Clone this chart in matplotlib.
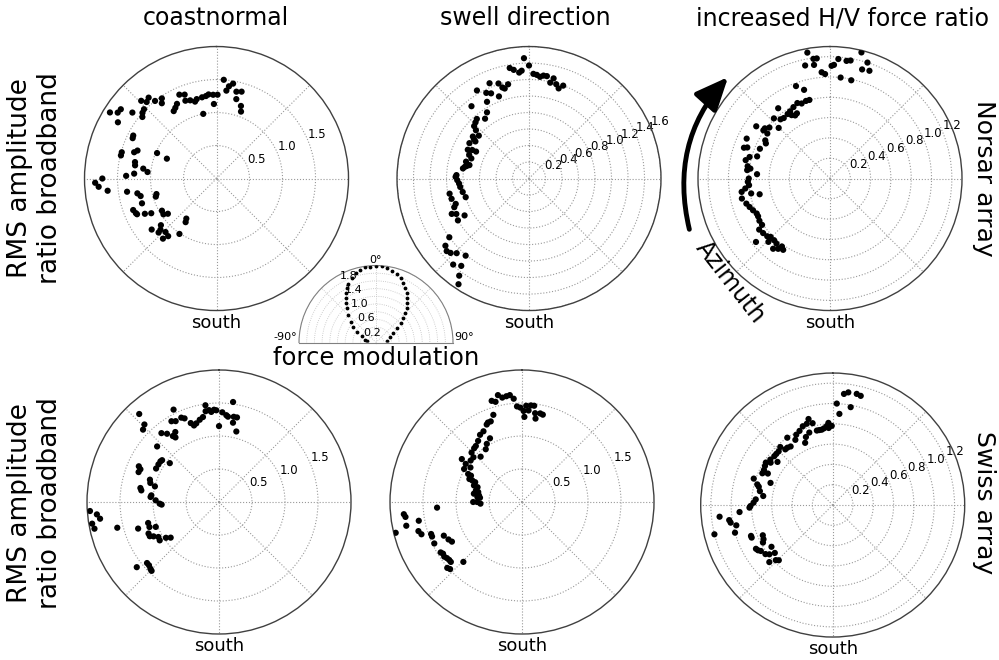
import numpy as np
import matplotlib.pyplot as plt
from matplotlib.patches import FancyArrowPatch

# azimuth (deg, clockwise from north) and RMS amplitude ratio
norsar_coast_az = [4.2, 7.7, 9.9, 6.4, 12.9, 16.1, 14.0, 18.6, 20.1, 0.7, 357.7, 354.6, 352.7, 349.9,
                   346.0, 344.4, 341.4, 338.2, 339.2, 336.1, 332.1, 329.8, 327.6, 348.4, 358.0, 325.7,
                   324.0, 321.6, 320.0, 315.9, 317.6, 313.7, 311.6, 309.7, 308.1, 305.9, 303.7, 301.8,
                   299.7, 297.3, 295.7, 289.5, 287.7, 285.5, 283.6, 293.2, 291.8, 281.4, 279.2, 277.7,
                   275.4, 273.4, 271.7, 268.0, 266.0, 270.0, 263.6, 261.6, 259.4, 257.0, 251.6, 255.5,
                   253.4, 249.3, 246.8, 245.8, 243.8, 242.0, 239.5, 236.0, 234.1, 217.0, 215.3, 230.0,
                   227.6, 231.8, 227.0, 223.6, 220.0, 221.7, 213.8]
norsar_coast_amp = [1.50, 1.41, 1.46, 1.34, 1.35, 1.37, 1.24, 1.16, 1.08, 1.27, 1.27, 1.28, 1.26, 1.25,
                    1.24, 1.21, 1.25, 1.27, 1.36, 1.39, 1.28, 1.24, 1.21, 1.00, 1.13, 1.47, 1.41, 1.50,
                    1.60, 1.64, 1.57, 1.52, 1.50, 1.46, 1.62, 1.79, 1.80, 1.90, 1.72, 1.42, 1.41, 1.27,
                    1.31, 1.49, 1.49, 0.98, 0.81, 1.26, 1.25, 1.12, 1.05, 1.25, 1.37, 1.84, 1.79, 1.73,
                    1.66, 1.37, 1.22, 1.18, 1.19, 0.94, 0.96, 1.35, 1.33, 1.32, 1.21, 1.12, 0.96, 0.97,
                    0.91, 0.76, 0.81, 1.10, 1.15, 1.25, 1.20, 1.12, 1.14, 1.22, 1.01]

norsar_swell_az = [357.6, 0.0, 350.1, 352.0, 354.7, 356.1, 2.4, 4.3, 6.2, 8.0, 9.9, 13.8, 12.5, 16.1,
                   18.2, 20.2, 337.5, 342.2, 343.7, 344.9, 347.5, 329.4, 333.5, 336.0, 339.9, 331.3,
                   321.5, 327.6, 323.7, 318.8, 316.4, 313.7, 312.3, 310.5, 306.8, 305.5, 300.7, 304.7,
                   295.2, 296.7, 291.6, 297.0, 289.2, 285.0, 280.4, 278.7, 281.4, 282.7, 272.7, 271.3,
                   268.7, 265.9, 263.0, 258.5, 253.6, 259.2, 255.3, 250.9, 249.0, 244.0, 240.2, 245.4,
                   239.5, 233.6, 231.2, 228.6, 226.5, 224.1, 219.4, 221.4, 217.8, 215.7, 213.7]
norsar_swell_amp = [1.46, 1.37, 1.36, 1.33, 1.29, 1.31, 1.27, 1.26, 1.24, 1.26, 1.26, 1.25, 1.19, 1.19,
                    1.15, 1.20, 1.25, 1.21, 1.15, 1.13, 1.17, 1.24, 1.16, 1.13, 1.06, 1.06, 1.12, 0.95,
                    0.90, 0.96, 0.94, 0.92, 0.87, 0.80, 0.85, 0.82, 0.84, 0.79, 0.82, 0.77, 0.78, 0.72,
                    0.74, 0.79, 0.79, 0.81, 0.77, 0.74, 0.88, 0.89, 0.87, 0.85, 0.84, 0.82, 0.80, 0.98,
                    0.97, 0.94, 0.97, 0.98, 0.90, 1.03, 1.00, 1.20, 1.30, 1.33, 1.31, 1.26, 1.21, 1.39,
                    1.34, 1.45, 1.54]

norsar_hv_az = [349.8, 352.1, 353.7, 347.6, 352.0, 0.8, 2.0, 4.0, 8.0, 9.9, 14.0, 17.9, 20.1, 16.4,
                355.5, 357.3, 6.0, 12.2, 339.8, 343.7, 345.3, 342.8, 339.3, 336.6, 332.9, 333.1,
                323.6, 329.3, 326.7, 328.8, 331.1, 322.6, 320.1, 317.0, 314.6, 310.1, 307.6, 305.9,
                305.3, 305.7, 300.5, 298.7, 293.0, 295.6, 289.7, 290.6, 285.0, 286.9, 282.3, 278.5,
                275.8, 277.1, 273.4, 270.0, 267.7, 265.3, 263.3, 261.4, 259.3, 257.4, 257.2, 253.3,
                250.5, 247.6, 244.5, 242.3, 239.1, 235.7, 234.2, 230.8, 227.4, 225.5, 222.2, 224.2,
                219.4, 215.3, 213.3, 216.4, 219.0, 229.4]
norsar_hv_amp = [1.26, 1.19, 1.19, 1.14, 1.13, 1.11, 1.12, 1.18, 1.17, 1.18, 1.28, 1.20, 1.13, 1.12,
                 1.05, 1.03, 1.00, 0.99, 0.97, 0.91, 0.80, 0.80, 0.79, 0.81, 0.79, 0.72, 0.86, 0.77,
                 0.76, 0.73, 0.71, 0.75, 0.76, 0.81, 0.71, 0.78, 0.81, 0.81, 0.89, 0.76, 0.74, 0.72,
                 0.75, 0.91, 0.90, 0.87, 0.82, 0.75, 0.85, 0.82, 0.82, 0.79, 0.72, 0.80, 0.81, 0.80,
                 0.84, 0.88, 0.79, 0.71, 0.89, 0.86, 0.84, 0.82, 0.80, 0.80, 0.81, 0.81, 0.86, 0.85,
                 0.84, 0.82, 0.82, 0.87, 0.83, 0.82, 0.84, 0.86, 0.89, 0.96]

swiss_coast_az = [8.0, 352.0, 356.9, 355.1, 353.8, 358.3, 2.1, 4.8, 6.0, 9.8, 12.0, 10.0, 13.8, 0.0,
                  351.6, 349.3, 346.8, 343.9, 341.9, 340.3, 337.6, 335.9, 333.8, 331.8, 329.5, 328.0,
                  326.0, 325.0, 322.7, 320.1, 317.8, 316.1, 313.6, 311.9, 304.7, 301.8, 308.3, 306.3,
                  298.0, 294.0, 292.6, 290.4, 287.9, 285.5, 283.7, 280.1, 278.5, 275.6, 271.5, 268.4,
                  267.4, 274.2, 266.0, 264.2, 262.0, 260.3, 257.9, 255.8, 251.8, 253.5, 250.2, 248.5,
                  245.9, 243.7, 242.3, 240.0, 237.1, 236.0, 233.6, 231.6, 229.7, 227.9, 225.8, 224.4]
swiss_coast_amp = [1.53, 1.48, 1.40, 1.37, 1.40, 1.39, 1.36, 1.32, 1.30, 1.31, 1.31, 1.22, 1.10, 1.15,
                   1.39, 1.31, 1.28, 1.24, 1.22, 1.27, 1.37, 1.40, 1.56, 1.39, 1.42, 1.25, 1.18, 1.22,
                   1.30, 1.36, 1.80, 1.63, 1.59, 1.26, 1.08, 1.08, 0.95, 1.07, 1.08, 1.33, 1.29, 1.30,
                   1.10, 1.08, 1.00, 1.21, 1.19, 1.03, 0.96, 0.90, 0.87, 1.04, 1.96, 1.86, 1.82, 1.95,
                   1.93, 1.59, 1.29, 1.12, 1.12, 1.03, 1.17, 1.17, 1.12, 1.06, 1.07, 0.97, 0.91, 1.59,
                   1.43, 1.43, 1.45, 1.46]

swiss_swell_az = [347.3, 349.3, 351.6, 353.5, 355.4, 343.3, 345.2, 357.0, 359.0, 2.5, 5.3, 7.2, 1.0,
                  4.1, 8.4, 11.6, 13.4, 1.6, 9.2, 341.8, 338.8, 336.8, 335.5, 331.4, 328.0, 333.3,
                  324.3, 328.8, 320.5, 318.3, 325.5, 314.4, 317.6, 312.6, 305.5, 304.1, 308.9, 299.7,
                  303.8, 297.5, 297.3, 293.6, 293.4, 292.9, 289.0, 288.4, 284.0, 282.8, 279.8, 278.7,
                  276.3, 275.8, 270.0, 270.0, 267.7, 266.2, 264.1, 262.7, 258.4, 259.7, 256.3, 254.3,
                  252.2, 250.6, 249.0, 244.7, 246.7, 243.0, 240.5, 238.2, 236.8, 234.9, 233.2, 231.5,
                  229.9, 224.4, 228.6, 227.0]
swiss_swell_amp = [1.66, 1.61, 1.62, 1.63, 1.57, 1.60, 1.57, 1.45, 1.43, 1.46, 1.47, 1.47, 1.38, 1.39,
                   1.36, 1.37, 1.36, 1.29, 1.28, 1.39, 1.31, 1.31, 1.29, 1.22, 1.20, 1.08, 1.14, 1.03,
                   1.10, 1.09, 0.97, 1.07, 0.93, 1.00, 1.12, 1.03, 1.00, 1.01, 0.94, 0.92, 0.87, 0.87,
                   0.82, 0.77, 0.77, 0.71, 0.72, 0.68, 0.74, 0.66, 0.68, 0.64, 0.74, 0.68, 0.63, 1.29,
                   1.80, 1.78, 1.79, 1.59, 1.97, 1.63, 1.60, 1.46, 1.46, 1.47, 1.29, 1.25, 1.22, 1.45,
                   1.43, 1.44, 1.42, 1.41, 1.41, 1.27, 1.51, 1.49]

swiss_hv_az = [5.8, 7.9, 12.2, 14.4, 2.3, 10.4, 4.2, 344.3, 342.3, 346.2, 348.0, 349.9, 351.7, 353.5,
               355.7, 357.0, 359.3, 357.0, 339.2, 335.9, 342.1, 332.6, 338.5, 330.2, 336.1, 326.0,
               324.3, 321.7, 317.9, 319.6, 314.8, 312.2, 309.9, 306.1, 308.0, 304.3, 302.4, 300.0,
               297.0, 294.3, 295.9, 289.6, 288.5, 285.3, 283.9, 280.8, 277.4, 274.2, 271.7, 269.3,
               268.2, 265.7, 264.1, 261.7, 260.2, 258.1, 254.2, 256.1, 249.3, 248.1, 246.6, 243.7,
               241.7, 240.3, 238.8, 237.4, 233.9, 232.1, 230.4, 235.7, 228.0, 225.9, 224.3]
swiss_hv_amp = [1.10, 1.12, 1.12, 1.11, 1.00, 0.98, 0.90, 0.88, 0.84, 0.83, 0.75, 0.75, 0.75, 0.76,
                0.78, 0.81, 0.78, 0.76, 0.83, 0.80, 0.75, 0.78, 0.72, 0.74, 0.67, 0.80, 0.71, 0.72,
                0.77, 0.72, 0.75, 0.75, 0.75, 0.76, 0.69, 0.74, 0.78, 0.77, 0.76, 0.76, 0.71, 0.65,
                0.82, 0.77, 0.75, 0.73, 0.69, 0.76, 0.78, 0.81, 0.82, 0.92, 1.12, 1.03, 1.02, 0.97,
                1.00, 1.20, 0.86, 0.86, 0.75, 0.76, 0.78, 0.87, 0.86, 0.84, 0.82, 0.79, 0.74, 0.73,
                0.84, 0.78, 0.76]

# force modulation pattern (angle from vertical, deg)
force_theta = [-83.4, -76.4, -65.1, -59.5, -54.8, -50.3, -45.0, -40.5, -37.3, -34.4, -31.3, -28.4,
               -25.2, -20.7, -16.1, -12.4, -8.3, -4.5, 0.0, 4.3, 8.2, 12.3, 16.8, 21.0, 24.7, 28.4,
               31.9, 35.3, 38.5, 41.8, 45.0, 48.3, 51.9, 56.1, 61.7, 69.1, 79.4]
force_r = [0.23, 0.29, 0.41, 0.56, 0.72, 0.85, 1.02, 1.17, 1.28, 1.40, 1.50, 1.60, 1.68, 1.79, 1.87,
           1.93, 1.98, 1.98, 1.99, 1.98, 1.95, 1.91, 1.86, 1.79, 1.70, 1.60, 1.51, 1.41, 1.31, 1.20,
           1.08, 0.95, 0.81, 0.67, 0.51, 0.39, 0.28]
force_rlabels = [0.2, 0.6, 1.0, 1.4, 1.8]

col_titles = ['coastnormal', 'swell direction', 'increased H/V force ratio']
row_names = ['Norsar array', 'Swiss array']

fig = plt.figure(figsize=(9.99, 6.6), dpi=100)


def polar_panel(rect, az, amp, rmax, rticks):
    ax = fig.add_axes(rect, projection='polar')
    ax.set_theta_zero_location('N')
    ax.set_theta_direction(-1)
    ax.scatter(np.radians(az), amp, s=20, c='k', edgecolors='none', zorder=3)
    ax.set_ylim(0, rmax)
    ax.set_rgrids(rticks, labels=['%.1f' % t for t in rticks], angle=67.5, fontsize=8.5)
    ax.set_thetagrids(np.arange(0, 360, 45), labels=[''] * 8)
    ax.grid(True, color='0.6', linestyle=':', linewidth=0.8)
    ax.spines['polar'].set_color('0.25')
    ax.spines['polar'].set_linewidth(1.0)
    ax.text(0.5, -0.012, 'south', transform=ax.transAxes, ha='center', va='top', fontsize=13)
    return ax


w, h = 264 / 999, 264 / 660
polar_panel([0.0846, 0.5295, w, h], norsar_coast_az, norsar_coast_amp, 2.0, [0.5, 1.0, 1.5])
polar_panel([0.3974, 0.5295, w, h], norsar_swell_az, norsar_swell_amp, 1.6,
            [0.2, 0.4, 0.6, 0.8, 1.0, 1.2, 1.4, 1.6])
polar_panel([0.6987, 0.5295, w, h], norsar_hv_az, norsar_hv_amp, 1.3, [0.2, 0.4, 0.6, 0.8, 1.0, 1.2])
polar_panel([0.0871, 0.0394, w, h], swiss_coast_az, swiss_coast_amp, 2.0, [0.5, 1.0, 1.5])
polar_panel([0.3904, 0.0394, w, h], swiss_swell_az, swiss_swell_amp, 2.0, [0.5, 1.0, 1.5])
polar_panel([0.7014, 0.0348, w, h], swiss_hv_az, swiss_hv_amp, 1.3, [0.2, 0.4, 0.6, 0.8, 1.0, 1.2])

# half-disc inset with the force modulation (square box, the half disc sits in its middle)
axf = fig.add_axes([299 / 999, 1 - 381 / 660, 154 / 999, 154 / 660], projection='polar')
axf.set_theta_zero_location('N')
axf.set_theta_direction(-1)
axf.set_thetamin(-90)
axf.set_thetamax(90)
axf.plot(np.radians(force_theta), force_r, 'k.', ms=3.5, zorder=3)
axf.set_ylim(0, 2.0)
rr = np.round(np.arange(0.2, 2.01, 0.2), 1)
axf.set_rgrids(rr, labels=[''] * len(rr))
for v in force_rlabels:
    axf.text(np.radians(-22.5), v + 0.08, '%.1f' % v, ha='center', va='center', fontsize=8)
axf.set_thetagrids([-90, -45, 0, 45, 90], labels=[''] * 5)
axf.text(np.radians(-90), 2.04, '-90°', ha='right', va='bottom', fontsize=8)
axf.text(0, 2.02, '0°', ha='center', va='bottom', fontsize=8)
axf.text(np.radians(90), 2.04, '90°', ha='left', va='bottom', fontsize=8)
axf.grid(True, color='0.75', linestyle=':', linewidth=0.6)
for s in axf.spines.values():
    s.set_color('0.5')
    s.set_linewidth(0.8)
fig.text(376 / 999, 1 - 358 / 660, 'force modulation', ha='center', va='center', fontsize=17.5)

# titles and row labels
for x, t in zip([216, 525, 843], col_titles):
    fig.text(x / 999, 1 - 18 / 660, t, ha='center', va='center', fontsize=17)
for y, name in zip([178, 503], row_names):
    fig.text(35 / 999, 1 - y / 660, 'RMS amplitude\nratio broadband', rotation=90,
             ha='center', va='center', fontsize=19, multialignment='center')
    fig.text(984 / 999, 1 - y / 660, name, rotation=-90, ha='center', va='center', fontsize=18)

# azimuth arrow
arrow = FancyArrowPatch((690 / 999, 1 - 232 / 660), (730 / 999, 1 - 75 / 660),
                        transform=fig.transFigure, connectionstyle='arc3,rad=-0.27',
                        arrowstyle='-|>,head_length=0.8,head_width=0.35', mutation_scale=25,
                        lw=3.5, color='k')
fig.add_artist(arrow)
fig.text(730 / 999, 1 - 282 / 660, 'Azimuth', rotation=-52, ha='center', va='center', fontsize=17)

fig.savefig('out.png', dpi=100)
